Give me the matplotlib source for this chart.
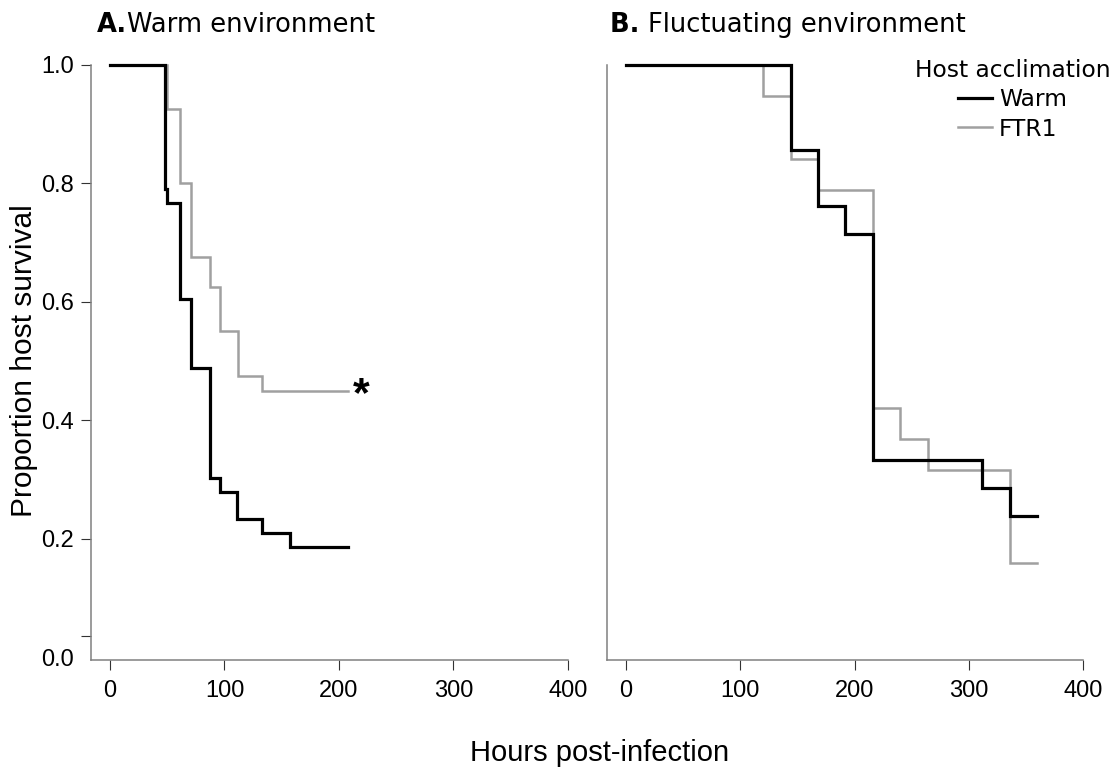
import matplotlib
matplotlib.use("Agg")
import matplotlib.pyplot as plt

# Kaplan-Meier steps: hours post-infection, proportion alive
warm_env_warm_hours = [0, 48, 50, 61, 71, 87, 96, 111, 133, 157, 208]
warm_env_warm_surv = [1.0, 0.791, 0.767, 0.605, 0.488, 0.302, 0.279, 0.233, 0.209, 0.186, 0.186]
warm_env_ftr_hours = [0, 49.5, 61, 71, 87, 96, 112, 133, 208]
warm_env_ftr_surv = [1.0, 0.925, 0.80, 0.675, 0.625, 0.55, 0.475, 0.45, 0.45]

fluct_env_warm_hours = [0, 144, 168, 192, 216, 312, 336, 360]
fluct_env_warm_surv = [1.0, 0.857, 0.762, 0.714, 0.333, 0.286, 0.238, 0.238]
fluct_env_ftr_hours = [0, 120, 144, 168, 216, 240, 264, 336, 360]
fluct_env_ftr_surv = [1.0, 0.947, 0.842, 0.789, 0.421, 0.368, 0.316, 0.158, 0.158]

group_labels = ["Warm", "FTR1"]
panel_letters = ["A.", "B. "]
panel_titles = ["Warm environment", "Fluctuating environment"]
x_ticks = [0, 100, 200, 300, 400]
y_ticks = [0.2, 0.4, 0.6, 0.8, 1.0]

BLACK = "#000000"
GREY = "#a0a0a0"
SPINE = "#808080"
SANS = ["Liberation Sans", "DejaVu Sans"]
TITLE_FONT = ["DejaVu Sans"]

W, H, DPI = 1116, 773, 100
fig = plt.figure(figsize=(W / DPI, H / DPI), dpi=DPI)


def px_axes(left, right, top, bottom):
    return fig.add_axes([left / W, 1 - bottom / H, (right - left) / W, (bottom - top) / H])


ax_a = px_axes(90.5, 568, 62, 660)
ax_b = px_axes(606.6, 1083, 62, 660)

panels = [
    (ax_a, warm_env_warm_hours, warm_env_warm_surv, warm_env_ftr_hours, warm_env_ftr_surv),
    (ax_b, fluct_env_warm_hours, fluct_env_warm_surv, fluct_env_ftr_hours, fluct_env_ftr_surv),
]

handles = {}
for ax, wh, ws, fh, fs in panels:
    handles["FTR1"], = ax.plot(fh, fs, drawstyle="steps-post", color=GREY, lw=1.8,
                               solid_joinstyle="miter", clip_on=False, zorder=2)
    handles["Warm"], = ax.plot(wh, ws, drawstyle="steps-post", color=BLACK, lw=2.3,
                               solid_joinstyle="miter", clip_on=False, zorder=3)
    ax.set_xlim(-17, 400)
    ax.set_ylim(-0.005, 1.005)
    for s in ("top", "right"):
        ax.spines[s].set_visible(False)
    for s in ("left", "bottom"):
        ax.spines[s].set_color(SPINE)
        ax.spines[s].set_linewidth(1.1)
    ax.spines["left"].set_bounds(-0.005, 1.0)
    ax.set_xticks(x_ticks)
    ax.tick_params(axis="x", length=7.5, width=0.8, color="#333333", pad=7,
                   labelsize=17)
    for lab in ax.get_xticklabels():
        lab.set_family(SANS)

# y axis of panel A: R-style tick just above zero, "0.0" label sits on the axis
ax_a.set_yticks([0.0355] + y_ticks, labels=[""] + [f"{v:.1f}" for v in y_ticks])
ax_a.set_yticks([0.0], labels=["0.0"], minor=True)
ax_a.tick_params(axis="y", which="major", length=7.5, width=0.8, color="#333333",
                 pad=4.5, labelsize=17)
ax_a.tick_params(axis="y", which="minor", length=0, pad=12, labelsize=17)
for lab in ax_a.get_yticklabels(which="both"):
    lab.set_family(SANS)
ax_b.set_yticks([])

# significance marker
ax_a.text(212, 0.45, "*", fontsize=31, fontweight="bold", family=SANS,
          ha="left", va="center_baseline", color=BLACK)

# panel titles: bold letter followed by regular text
for ax, letter, title, x0 in zip((ax_a, ax_b), panel_letters, panel_titles, (97, 610)):
    t = fig.text(x0 / W, 1 - 22 / H, letter, fontsize=18.5, fontweight="bold",
                 family=TITLE_FONT, ha="left", va="center_baseline")
    ax.annotate(title, xy=(1, 0), xycoords=t, ha="left", va="bottom",
                fontsize=18.5, family=TITLE_FONT)

# axis labels
fig.text(24 / W, 1 - 361 / H, "Proportion host survival", rotation=90,
         ha="center", va="center", fontsize=21.5, family=SANS)
fig.text(600 / W, 1 - 753 / H, "Hours post-infection",
         ha="center", va="center", fontsize=21, family=SANS)

ax_b.legend([handles[g] for g in group_labels], group_labels,
            loc="upper left", bbox_to_anchor=(915 / W, 1 - 59 / H),
            bbox_transform=fig.transFigure, frameon=False,
            title="Host acclimation", alignment="center",
            prop={"family": TITLE_FONT, "size": 16.8},
            title_fontproperties={"family": TITLE_FONT, "size": 16.8},
            handlelength=1.45, handletextpad=0.3, labelspacing=0.27,
            borderpad=0.0, borderaxespad=0.0)

fig.savefig("out.png", dpi=DPI, facecolor="white")
